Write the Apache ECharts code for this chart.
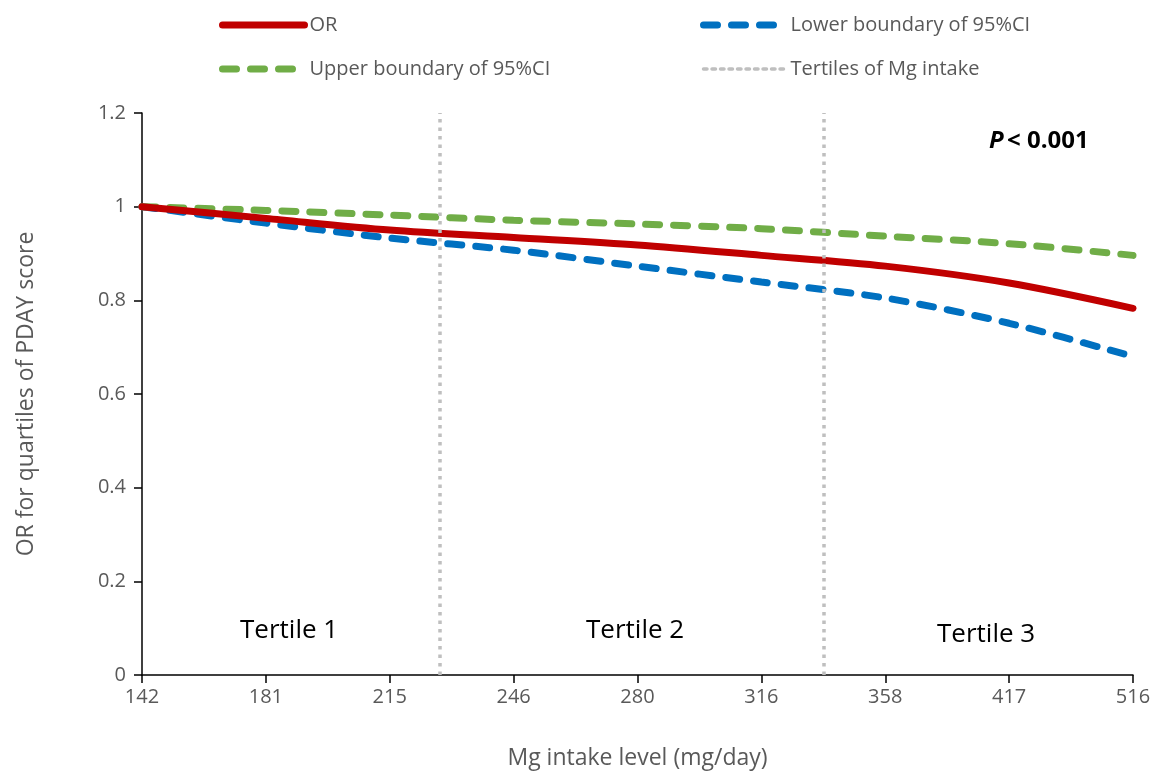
<!DOCTYPE html>
<html>
<head>
<meta charset="utf-8">
<script src="https://cdn.jsdelivr.net/npm/echarts@6/dist/echarts.min.js"></script>
<style>
  html, body { margin: 0; padding: 0; background: #fff; }
  #chart { width: 1159px; height: 775px; }
</style>
</head>
<body>
<div id="chart"></div>
<script>
// Mg intake level categories (mg/day)
const categories = ['142', '181', '215', '246', '280', '316', '358', '417', '516'];
// OR and 95%CI
const orValues    = [1.000, 0.975, 0.950, 0.934, 0.918, 0.896, 0.873, 0.837, 0.783];
const lowerValues = [1.000, 0.965, 0.933, 0.907, 0.873, 0.839, 0.805, 0.751, 0.680];
const upperValues = [1.000, 0.992, 0.982, 0.971, 0.963, 0.953, 0.937, 0.921, 0.896];
// tertile cut points, as position on the category scale
const tertileCuts = [2.40, 5.50];
const yTicks = [0, 0.2, 0.4, 0.6, 0.8, 1, 1.2];

const font = 'Open Sans';
const toPairs = arr => arr.map((v, i) => [i, v]);

const dashed = [14, 14];
const dotted = [3.5, 5];

// legend entries: hide the symbol, keep a thick line like the series
const legendItem = (name, color, type, width) => ({
  name,
  itemStyle: { opacity: 0 },
  lineStyle: { color, width, type, cap: 'round' }
});

const chart = echarts.init(document.getElementById('chart'));

const option = {
  animation: false,
  textStyle: { fontFamily: font },
  grid: { left: 142, right: 26, top: 113, bottom: 98 },
  legend: [
    {
      orient: 'vertical', left: 214, top: 10,
      itemWidth: 82, itemHeight: 22, itemGap: 24,
      textStyle: { fontSize: 20, color: '#595959', fontFamily: font },
      data: [
        legendItem('OR', '#C00000', 'solid', 7),
        legendItem('Upper boundary of 95%CI', '#70AD47', dashed, 7)
      ]
    },
    {
      orient: 'vertical', left: 695, top: 10,
      itemWidth: 82, itemHeight: 22, itemGap: 24,
      textStyle: { fontSize: 20, color: '#595959', fontFamily: font },
      data: [
        legendItem('Lower boundary of 95%CI', '#0070C0', dashed, 7),
        legendItem('Tertiles of Mg intake', '#BFBFBF', dotted, 3.5)
      ]
    }
  ],
  xAxis: {
    type: 'value', min: 0, max: categories.length - 1, interval: 1,
    name: 'Mg intake level (mg/day)', nameLocation: 'middle', nameGap: 72,
    nameTextStyle: { fontSize: 23, color: '#595959', fontFamily: font },
    axisLine: { lineStyle: { color: '#000', width: 1.5 } },
    axisTick: { show: true, length: 8, lineStyle: { color: '#000', width: 1.5 } },
    axisLabel: {
      fontSize: 20, color: '#595959', margin: 12,
      formatter: v => categories[Math.round(v)] || ''
    },
    splitLine: { show: false }
  },
  yAxis: {
    type: 'value', min: 0, max: 1.2, interval: 0.2,
    name: 'OR for quartiles of PDAY score', nameLocation: 'middle', nameGap: 104,
    nameTextStyle: { fontSize: 23, color: '#595959', fontFamily: font },
    axisLine: { show: true, lineStyle: { color: '#000', width: 1.5 } },
    axisTick: { show: true, length: 8, lineStyle: { color: '#000', width: 1.5 } },
    axisLabel: {
      fontSize: 20, color: '#595959', margin: 16,
      formatter: v => {
        const t = yTicks.find(k => Math.abs(k - v) < 1e-6);
        return t === undefined ? '' : String(t);
      }
    },
    splitLine: { show: false }
  },
  series: [
    {
      name: 'OR', type: 'line', smooth: 0.3, symbol: 'none',
      data: toPairs(orValues),
      lineStyle: { color: '#C00000', width: 7, cap: 'round' },
      itemStyle: { color: '#C00000' },
      z: 3
    },
    {
      name: 'Lower boundary of 95%CI', type: 'line', smooth: 0.3, symbol: 'none',
      data: toPairs(lowerValues),
      lineStyle: { color: '#0070C0', width: 7, type: dashed, cap: 'round' },
      itemStyle: { color: '#0070C0' },
      z: 2
    },
    {
      name: 'Upper boundary of 95%CI', type: 'line', smooth: 0.3, symbol: 'none',
      data: toPairs(upperValues),
      lineStyle: { color: '#70AD47', width: 7, type: dashed, cap: 'round' },
      itemStyle: { color: '#70AD47' },
      z: 2
    },
    {
      name: 'Tertiles of Mg intake', type: 'line', symbol: 'none',
      data: [],
      lineStyle: { color: '#BFBFBF', width: 3.5, type: dotted },
      itemStyle: { color: '#BFBFBF' },
      markLine: {
        silent: true, symbol: 'none', label: { show: false },
        lineStyle: { color: '#BFBFBF', width: 3.5, type: dotted },
        data: tertileCuts.map(c => ({ xAxis: c }))
      },
      z: 1
    }
  ],
  graphic: [
    { type: 'text', left: 240, top: 618, style: { text: 'Tertile 1', fontSize: 26, fill: '#000', fontFamily: font } },
    { type: 'text', left: 586, top: 618, style: { text: 'Tertile 2', fontSize: 26, fill: '#000', fontFamily: font } },
    { type: 'text', left: 937, top: 622, style: { text: 'Tertile 3', fontSize: 26, fill: '#000', fontFamily: font } },
    {
      type: 'text', left: 989, top: 129,
      style: {
        text: '{p|P} {t|< 0.001}',
        rich: {
          p: { fontSize: 24, fontWeight: 'bold', fontStyle: 'italic', fill: '#000', fontFamily: font },
          t: { fontSize: 24, fontWeight: 'bold', fill: '#000', fontFamily: font }
        }
      }
    }
  ]
};

chart.setOption(option);
</script>
</body>
</html>
